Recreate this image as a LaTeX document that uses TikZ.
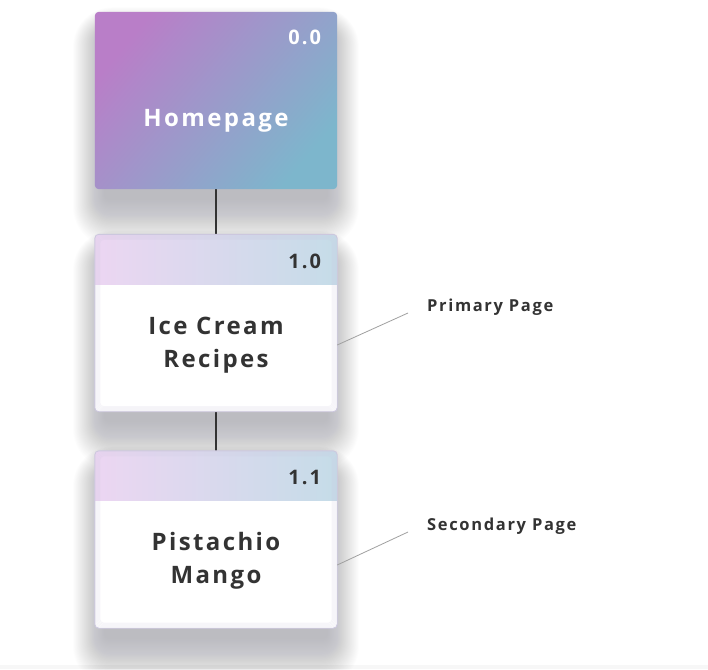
\documentclass[tikz,border=0pt]{standalone}
\usepackage{fontspec}
\setmainfont{Open Sans}
\newfontfamily\labelfont{Open Sans}[LetterSpace=10]
\usetikzlibrary{calc}

\definecolor{hpA}{HTML}{B97EC8}
\definecolor{hpB}{HTML}{7DB6CC}
\definecolor{hdA}{HTML}{ECD6F2}
\definecolor{hdB}{HTML}{C5DCE8}
\definecolor{inkdark}{HTML}{333333}
\definecolor{edge}{HTML}{CCC7DE}
\definecolor{shadowcol}{HTML}{4A4A55}
\definecolor{leader}{HTML}{A0A0A0}

\tikzset{
  pagebox/.style={minimum width=242pt, minimum height=177pt, inner sep=0pt},
  boxtitle/.style={font=\labelfont\bfseries\fontsize{24}{33}\selectfont, align=center, text=inkdark},
  boxnum/.style={font=\labelfont\bfseries\fontsize{20}{24}\selectfont, text=inkdark, anchor=north east, inner sep=0pt},
  sidelabel/.style={font=\labelfont\bfseries\fontsize{16.5}{20}\selectfont, text=inkdark, anchor=west, inner sep=0pt},
  link/.style={draw=inkdark, line width=1.6pt},
  leaderline/.style={draw=leader, line width=0.8pt}
}

% soft drop shadow under a box given by its corners
\newcommand{\softshadow}[4]{%
  \foreach \i in {1,...,40}{%
    \pgfmathsetmacro{\rr}{4+0.9*\i}%
    \fill[shadowcol, opacity=0.0097, rounded corners=\rr pt]
      (#1+10-0.8*\i, #2+24-0.72*\i) rectangle (#3-10+0.8*\i, #4+10+1.2*\i);
  }%
}

\begin{document}
\begin{tikzpicture}[x=1pt, y=-1pt]
  \useasboundingbox (0,0) rectangle (708,669);
  \fill[white] (0,0) rectangle (708,669);
  \fill[black!3] (0,665) rectangle (708,669);

  % shadows
  \softshadow{95}{12}{337}{189}
  \softshadow{95}{235}{337}{411}
  \softshadow{95}{451}{337}{628}

  % connectors between pages
  \node[pagebox] (hp) at (216,100.5) {};
  \node[pagebox] (p10) at (216,323) {};
  \node[pagebox] (p11) at (216,539.5) {};
  \draw[link] (hp.south) -- (p10.north);
  \draw[link] (p10.south) -- (p11.north);

  % homepage box
  \shade[rounded corners=4pt, top color=hpA, bottom color=hpB, shading angle=50]
    (hp.north west) rectangle (hp.south east);
  \node[boxnum, text=white] at ([xshift=-16pt, yshift=-18pt]hp.north east) {0.0};
  \node[boxtitle, text=white] (hpt) at ([yshift=-20pt]hp.center) {Homepage};

  % primary and secondary page boxes
  \foreach \b/\num in {p10/1.0, p11/1.1}{
    \fill[white, rounded corners=4pt] (\b.north west) rectangle (\b.south east);
    \begin{scope}
      \clip[rounded corners=4pt] (\b.north west) rectangle (\b.south east);
      \shade[left color=hdA, right color=hdB]
        (\b.north west) rectangle ([yshift=-50pt]\b.north east);
      \foreach \k in {1,...,5}{
        \draw[edge, opacity=0.16, line width=1pt, rounded corners=4pt]
          ([xshift=\k pt, yshift=-\k pt]\b.north west) rectangle ([xshift=-\k pt, yshift=\k pt]\b.south east);
      }
    \end{scope}
    \draw[edge, line width=0.9pt, rounded corners=4pt] (\b.north west) rectangle (\b.south east);
    \node[boxnum] at ([xshift=-16pt, yshift=-19pt]\b.north east) {\num};
  }

  \node[boxtitle] (p10t) at ([yshift=-22pt]p10.center) {Ice Cream\\Recipes};
  \node[boxtitle] (p11t) at ([yshift=-21.5pt]p11.center) {Pistachio\\Mango};

  % side annotations
  \node[sidelabel] (lab1) at (427,307.5) {Primary Page};
  \node[sidelabel] (lab2) at (427,526.5) {Secondary Page};
  \coordinate (lead1) at (408,313);
  \coordinate (lead2) at (408,532);
  \draw[leaderline] (p10.east |- 0,345) -- (lead1);
  \draw[leaderline] (p11.east |- 0,565) -- (lead2);
\end{tikzpicture}
\end{document}
